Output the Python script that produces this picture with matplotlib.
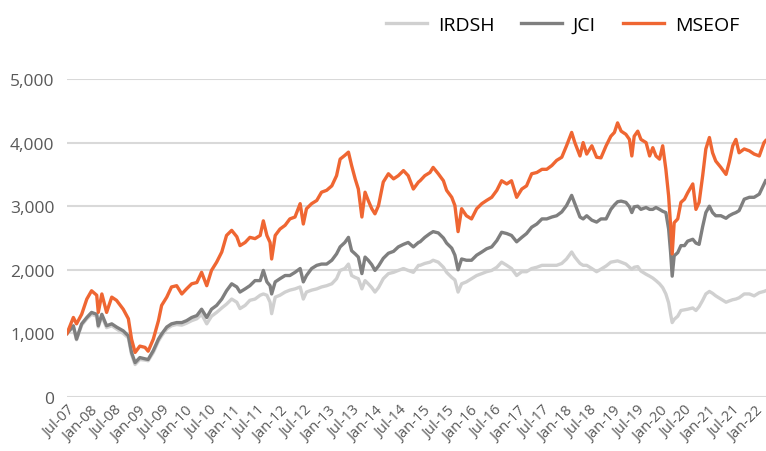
import matplotlib.pyplot as plt

# months after Jul-2007
months = [
    0, 1.6, 2.4, 3.7, 5.0, 6.2, 7.5, 7.9, 8.8, 10.0, 11.3, 12.5, 14.2, 15.5,
    16.3, 17.2, 18.4, 19.7, 20.5, 21.8, 23.1, 23.9, 25.2, 26.4, 27.7, 29.0,
    30.2, 31.5, 32.8, 34.0, 35.3, 36.5, 37.8, 39.1, 40.3, 41.6, 42.9,
    43.7, 45.0, 46.2, 47.5, 48.8, 49.6, 50.5, 51.3, 51.7, 52.6, 53.8, 55.1,
    56.3, 57.6, 58.9, 59.7, 60.5, 61.8, 63.1, 64.3, 65.6, 66.9, 68.1, 69.0,
    70.2, 71.1, 71.9, 72.8, 73.6, 74.5, 75.3, 76.1, 77.0, 77.8, 78.7, 79.9,
    81.2, 82.5, 83.7, 85.0, 86.2, 87.5, 88.8,
    89.2, 90.4, 91.7, 92.5, 93.8, 95.1, 95.9, 97.2, 98.0, 98.8, 99.7, 100.9,
    102.2, 103.5, 104.8, 106.0, 107.3, 108.6, 109.8, 111.1, 112.3, 113.6,
    114.9, 116.1, 117.4, 118.7, 120.0, 121.2, 122.5, 123.7, 125.0, 126.2,
    127.5, 128.3, 129.6, 130.4, 131.3, 132.6, 133.8,
    134.9, 136.2, 137.4, 138.3, 139.1, 140.0, 141.2, 142.1, 142.7, 143.3,
    144.2, 145.0, 146.3, 147.2, 148.0, 148.8, 149.7, 150.5, 151.3, 152.0,
    152.5, 152.9, 153.4, 154.3, 155.1, 156.0, 156.8, 158.1, 158.9, 159.7,
    160.6, 161.4, 162.3, 163.1, 163.9, 165.2, 166.5, 167.3, 168.2, 169.0,
    169.8, 171.1, 172.4, 173.6, 174.9, 176.1, 176.5,
]

mseof = [
    1000, 1250, 1150, 1300, 1540, 1670, 1600, 1330, 1620, 1330, 1570, 1520,
    1380, 1230, 910, 700, 800, 780, 720, 910, 1200, 1440, 1570, 1730, 1750,
    1620, 1700, 1780, 1800, 1960, 1750, 1990, 2120, 2280, 2540, 2620, 2520,
    2380, 2430, 2510, 2490, 2540, 2770, 2540, 2430, 2170, 2540, 2640, 2700,
    2800, 2830, 3040, 2720, 2960, 3040, 3090, 3220, 3250, 3320, 3480, 3740,
    3800, 3850, 3640, 3430, 3270, 2830, 3220, 3090, 2960, 2880, 3010, 3380,
    3510, 3430, 3480, 3560, 3480, 3270, 3380,
    3400, 3480, 3530, 3610, 3510, 3400, 3250, 3140, 3010, 2600, 2960, 2850,
    2800, 2960, 3040, 3090, 3140, 3250, 3400, 3350, 3400, 3140, 3270, 3320,
    3510, 3530, 3580, 3580, 3640, 3720, 3770, 3950, 4160, 4000, 3790, 4000,
    3820, 3950, 3770,
    3760, 3950, 4100, 4160, 4310, 4180, 4130, 4050, 3790, 4100, 4180, 4050,
    4000, 3790, 3920, 3790, 3740, 3950, 3580, 3160, 2690, 2250, 2740, 2800,
    3060, 3110, 3210, 3350, 2950, 3060, 3480, 3900, 4080, 3840, 3710, 3610,
    3500, 3690, 3950, 4050, 3840, 3900, 3870, 3820, 3790, 4000, 4030,
]

jci = [
    1000, 1120, 910, 1150, 1250, 1330, 1300, 1120, 1300, 1120, 1150, 1100,
    1040, 960, 700, 540, 620, 600, 590, 730, 910, 990, 1100, 1150, 1170,
    1170, 1200, 1250, 1280, 1380, 1250, 1380, 1440, 1540, 1670, 1780, 1730,
    1650, 1700, 1750, 1830, 1830, 1990, 1810, 1750, 1620, 1810, 1860, 1910,
    1910, 1960, 2020, 1810, 1910, 2020, 2070, 2090, 2090, 2150, 2250, 2360,
    2430, 2510, 2300, 2250, 2200, 1940, 2200, 2150, 2080, 1990, 2060, 2180,
    2260, 2290, 2360, 2400, 2430, 2360, 2430,
    2440, 2510, 2570, 2600, 2580, 2500, 2420, 2340, 2230, 2000, 2170, 2150,
    2150, 2230, 2280, 2330, 2360, 2460, 2590, 2570, 2540, 2440, 2510, 2570,
    2670, 2720, 2800, 2800, 2830, 2850, 2910, 3010, 3170, 3040, 2830, 2800,
    2850, 2780, 2750,
    2800, 2800, 2950, 3020, 3070, 3080, 3060, 2990, 2900, 2990, 3000, 2950,
    2980, 2950, 2950, 2980, 2950, 2920, 2900, 2640, 2270, 1900, 2220, 2270,
    2380, 2380, 2450, 2480, 2420, 2400, 2680, 2900, 3000, 2900, 2850, 2850,
    2810, 2850, 2880, 2900, 2930, 3110, 3140, 3140, 3190, 3350, 3400,
]

irdsh = [
    1000, 1100, 900, 1130, 1230, 1300, 1270, 1100, 1270, 1090, 1120, 1070,
    1000, 930, 670, 510, 590, 580, 570, 700, 880, 960, 1070, 1120, 1140,
    1130, 1160, 1200, 1230, 1300, 1150, 1270, 1330, 1400, 1460, 1540, 1490,
    1390, 1440, 1520, 1540, 1600, 1620, 1600, 1490, 1310, 1570, 1600, 1650,
    1680, 1700, 1730, 1540, 1650, 1680, 1700, 1730, 1750, 1780, 1860, 1990,
    2020, 2090, 1910, 1880, 1860, 1700, 1830, 1780, 1720, 1650, 1720, 1860,
    1940, 1960, 1990, 2020, 1990, 1960, 2070,
    2070, 2100, 2120, 2150, 2120, 2040, 1960, 1880, 1840, 1650, 1780, 1810,
    1860, 1910, 1940, 1970, 1990, 2040, 2120, 2070, 2020, 1910, 1970, 1970,
    2020, 2040, 2070, 2070, 2070, 2070, 2100, 2170, 2280, 2200, 2100, 2070,
    2070, 2020, 1970,
    2010, 2060, 2120, 2130, 2140, 2120, 2090, 2040, 2010, 2040, 2050, 1980,
    1930, 1900, 1870, 1830, 1780, 1720, 1620, 1480, 1300, 1170, 1220, 1270,
    1360, 1370, 1380, 1400, 1360, 1420, 1520, 1620, 1660, 1630, 1590, 1540,
    1490, 1510, 1530, 1540, 1560, 1620, 1620, 1590, 1640, 1660, 1670,
]

tick_labels = []
for yr in range(7, 22):
    tick_labels.append("Jul-%02d" % yr)
    tick_labels.append("Jan-%02d" % (yr + 1))
yticks = [0, 1000, 2000, 3000, 4000, 5000]


def main():
    plt.rcParams['font.family'] = ['Open Sans', 'DejaVu Sans']
    fig = plt.figure(figsize=(7.66, 4.52), dpi=100)
    ax = fig.add_axes([0.0875, 0.1195, 0.9125, 0.7035])

    ax.plot(months, irdsh, color="#d0d0d0", lw=2.4, label="IRDSH")
    ax.plot(months, jci, color="#7f7f7f", lw=2.4, label="JCI")
    ax.plot(months, mseof, color="#ef6632", lw=2.4, label="MSEOF")

    ax.set_xlim(0, 176.6)
    ax.set_ylim(0, 5000)
    ax.set_yticks(yticks)
    ax.set_yticklabels(["{:,}".format(v) for v in yticks])
    ax.set_xticks([6 * i for i in range(len(tick_labels))])
    ax.set_xticklabels(tick_labels, rotation=45, ha="right",
                       rotation_mode="anchor")
    ax.tick_params(axis="y", length=0, pad=9, labelsize=12.5,
                   labelcolor="#595959")
    ax.tick_params(axis="x", length=0, pad=4, labelsize=10.5,
                   labelcolor="#595959")
    ax.grid(axis="y", color="#d9d9d9", lw=1.5)
    ax.set_axisbelow(True)
    for s in ax.spines.values():
        s.set_visible(False)

    fig.legend(loc="upper right", bbox_to_anchor=(0.975, 0.98), ncol=3,
               frameon=False, fontsize=14, handlelength=2.1,
               handletextpad=0.55, columnspacing=1.4, borderaxespad=0)

    fig.savefig("out.png", dpi=100)
    plt.close()


if __name__ == "__main__":
    main()
